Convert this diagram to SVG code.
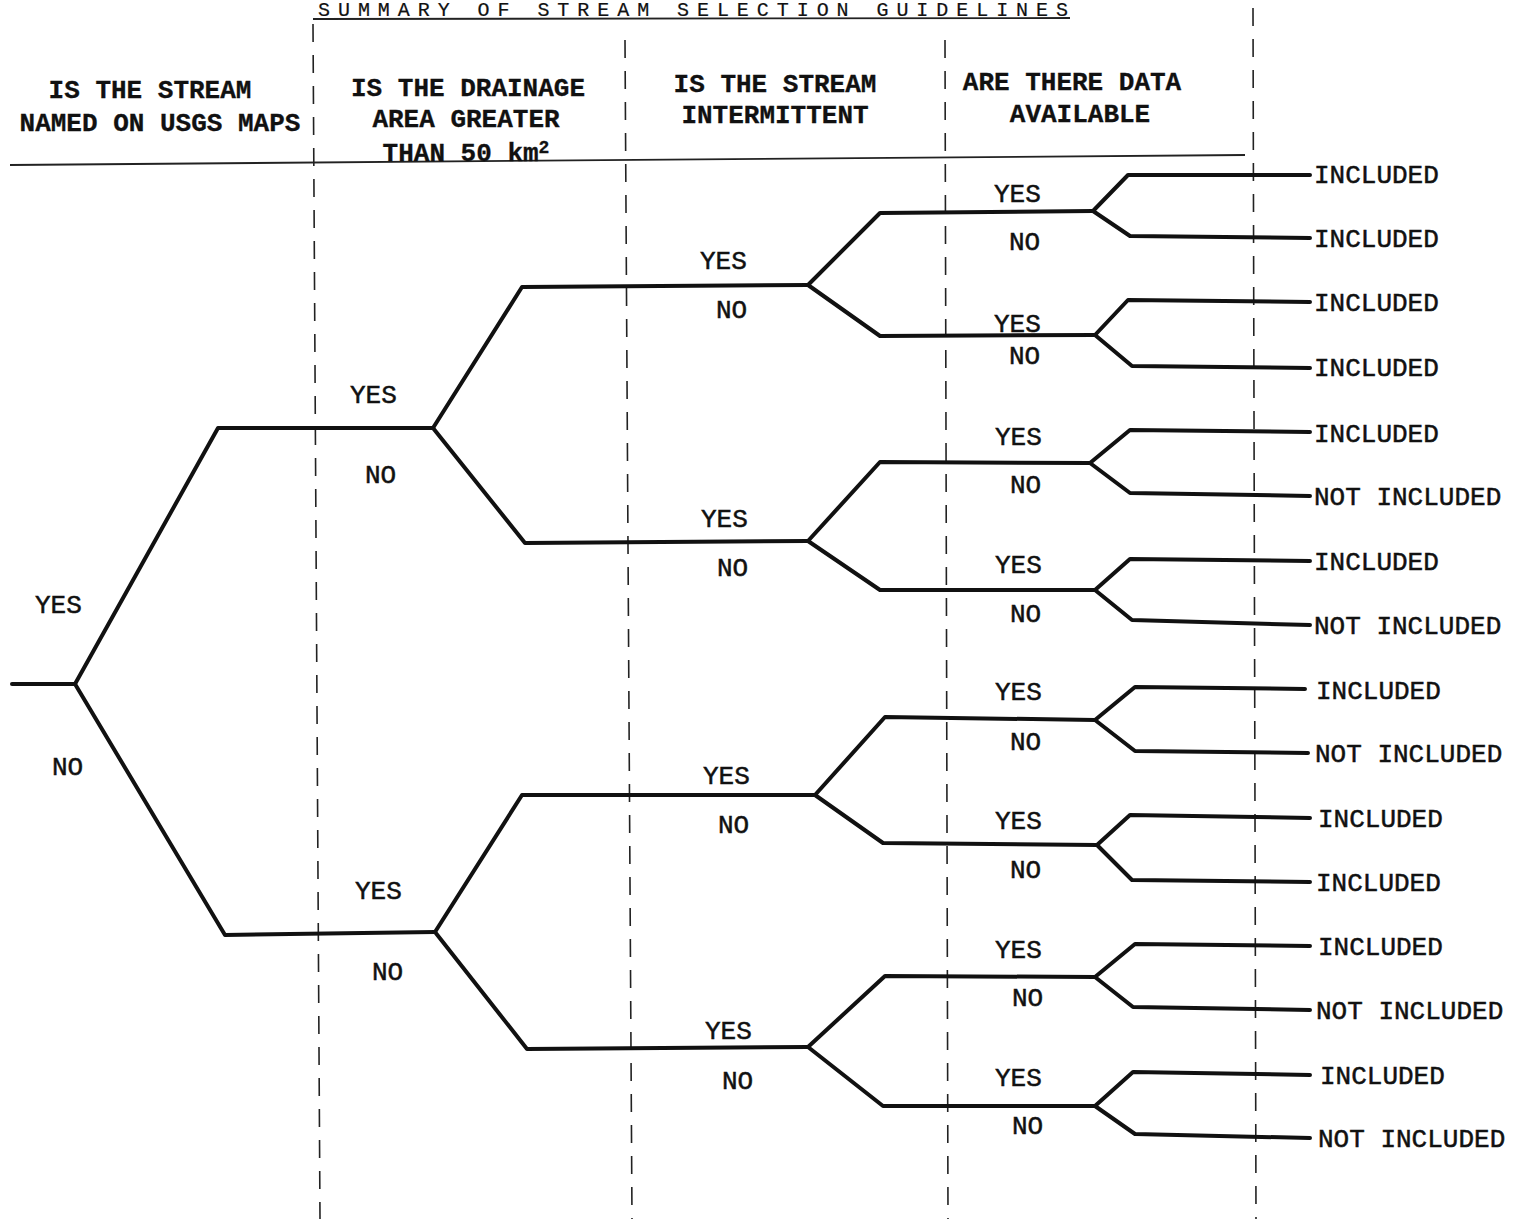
<svg xmlns="http://www.w3.org/2000/svg" width="1518" height="1219" viewBox="0 0 1518 1219">
<style>
.t{font-family:"Liberation Mono","DejaVu Sans Mono",monospace;font-size:26px;fill:#111;stroke:#111;stroke-width:0.5}
.h{font-weight:bold;text-anchor:middle;stroke-width:0.3}
.e{fill:none;stroke:#111;stroke-width:4;stroke-linejoin:round;stroke-linecap:round}
.d{fill:none;stroke:#222;stroke-width:1.6;stroke-dasharray:18 13}
.r{fill:none;stroke:#222;stroke-width:1.8}
</style>
<rect width="1518" height="1219" fill="#fff"/>
<g id="title">
<text class="t" x="318" y="16" textLength="750" lengthAdjust="spacing" style="font-size:20px;stroke-width:0.2">SUMMARY OF STREAM SELECTION GUIDELINES</text>
<line class="r" x1="313" y1="19" x2="1070" y2="18"/>
</g>
<g id="dividers">
<line class="d" x1="313" y1="24" x2="320" y2="1219"/>
<line class="d" x1="625" y1="40" x2="632" y2="1219"/>
<line class="d" x1="945" y1="40" x2="948" y2="1219"/>
<line class="d" x1="1253" y1="8" x2="1256" y2="1219"/>
<line class="r" x1="10" y1="165" x2="1245" y2="155"/>
</g>
<g id="headers">
<g id="h1"><text class="t h" x="150" y="98">IS THE STREAM</text><text class="t h" x="160" y="131">NAMED ON USGS MAPS</text></g>
<g id="h2"><text class="t h" x="468" y="96">IS THE DRAINAGE</text><text class="t h" x="466" y="127">AREA GREATER</text><text class="t h" x="466" y="161">THAN 50 km<tspan dy="-8" style="font-size:18px">2</tspan></text></g>
<g id="h3"><text class="t h" x="775" y="92">IS THE STREAM</text><text class="t h" x="775" y="123">INTERMITTENT</text></g>
<g id="h4"><text class="t h" x="1072" y="90">ARE THERE DATA</text><text class="t h" x="1080" y="122">AVAILABLE</text></g>
</g>
<g id="connectors">
<path class="e" d="M12 684 H75"/>
<path class="e" d="M75 684 L218 428 L433 428"/>
<path class="e" d="M75 684 L225 935 L435 932"/>
<path class="e" d="M433 428 L522 287 L808 285"/>
<path class="e" d="M433 428 L525 543 L808 541"/>
<path class="e" d="M435 932 L522 795 L815 795"/>
<path class="e" d="M435 932 L527 1049 L808 1047"/>
<path class="e" d="M808 285 L880 213 L1093 211"/>
<path class="e" d="M808 285 L880 336 L1095 335"/>
<path class="e" d="M808 541 L880 462 L1090 463"/>
<path class="e" d="M808 541 L880 590 L1095 590"/>
<path class="e" d="M815 795 L885 717 L1095 720"/>
<path class="e" d="M815 795 L883 843 L1097 845"/>
<path class="e" d="M808 1047 L885 976 L1095 977"/>
<path class="e" d="M808 1047 L883 1106 L1095 1106"/>
<path class="e" d="M1093 211 L1128 175 L1310 175"/>
<path class="e" d="M1093 211 L1130 236 L1310 238"/>
<path class="e" d="M1095 335 L1128 300 L1310 302"/>
<path class="e" d="M1095 335 L1132 366 L1310 368"/>
<path class="e" d="M1090 463 L1130 430 L1310 432"/>
<path class="e" d="M1090 463 L1130 493 L1310 496"/>
<path class="e" d="M1095 590 L1130 559 L1310 561"/>
<path class="e" d="M1095 590 L1132 620 L1310 625"/>
<path class="e" d="M1095 720 L1135 687 L1305 689"/>
<path class="e" d="M1095 720 L1135 751 L1308 753"/>
<path class="e" d="M1097 845 L1130 815 L1310 818"/>
<path class="e" d="M1097 845 L1132 880 L1310 882"/>
<path class="e" d="M1095 977 L1135 944 L1310 946"/>
<path class="e" d="M1095 977 L1133 1007 L1310 1010"/>
<path class="e" d="M1095 1106 L1133 1072 L1310 1075"/>
<path class="e" d="M1095 1106 L1135 1134 L1310 1138"/>
</g>
<g id="branch-labels">
<text class="t" x="35" y="613">YES</text><text class="t" x="52" y="775">NO</text>
<text class="t" x="350" y="403">YES</text><text class="t" x="365" y="483">NO</text>
<text class="t" x="355" y="899">YES</text><text class="t" x="372" y="980">NO</text>
<text class="t" x="700" y="269">YES</text><text class="t" x="716" y="318">NO</text>
<text class="t" x="701" y="527">YES</text><text class="t" x="717" y="576">NO</text>
<text class="t" x="703" y="784">YES</text><text class="t" x="718" y="833">NO</text>
<text class="t" x="705" y="1039">YES</text><text class="t" x="722" y="1089">NO</text>
<text class="t" x="994" y="202">YES</text><text class="t" x="1009" y="250">NO</text>
<text class="t" x="994" y="332">YES</text><text class="t" x="1009" y="364">NO</text>
<text class="t" x="995" y="445">YES</text><text class="t" x="1010" y="493">NO</text>
<text class="t" x="995" y="573">YES</text><text class="t" x="1010" y="622">NO</text>
<text class="t" x="995" y="700">YES</text><text class="t" x="1010" y="750">NO</text>
<text class="t" x="995" y="829">YES</text><text class="t" x="1010" y="878">NO</text>
<text class="t" x="995" y="958">YES</text><text class="t" x="1012" y="1006">NO</text>
<text class="t" x="995" y="1086">YES</text><text class="t" x="1012" y="1134">NO</text>
</g>
<g id="leaf1"><text class="t" x="1314" y="183">INCLUDED</text></g>
<g id="leaf2"><text class="t" x="1314" y="247">INCLUDED</text></g>
<g id="leaf3"><text class="t" x="1314" y="311">INCLUDED</text></g>
<g id="leaf4"><text class="t" x="1314" y="376">INCLUDED</text></g>
<g id="leaf5"><text class="t" x="1314" y="442">INCLUDED</text></g>
<g id="leaf6"><text class="t" x="1314" y="505">NOT INCLUDED</text></g>
<g id="leaf7"><text class="t" x="1314" y="570">INCLUDED</text></g>
<g id="leaf8"><text class="t" x="1314" y="634">NOT INCLUDED</text></g>
<g id="leaf9"><text class="t" x="1316" y="699">INCLUDED</text></g>
<g id="leaf10"><text class="t" x="1315" y="762">NOT INCLUDED</text></g>
<g id="leaf11"><text class="t" x="1318" y="827">INCLUDED</text></g>
<g id="leaf12"><text class="t" x="1316" y="891">INCLUDED</text></g>
<g id="leaf13"><text class="t" x="1318" y="955">INCLUDED</text></g>
<g id="leaf14"><text class="t" x="1316" y="1019">NOT INCLUDED</text></g>
<g id="leaf15"><text class="t" x="1320" y="1084">INCLUDED</text></g>
<g id="leaf16"><text class="t" x="1318" y="1147">NOT INCLUDED</text></g>
</svg>
